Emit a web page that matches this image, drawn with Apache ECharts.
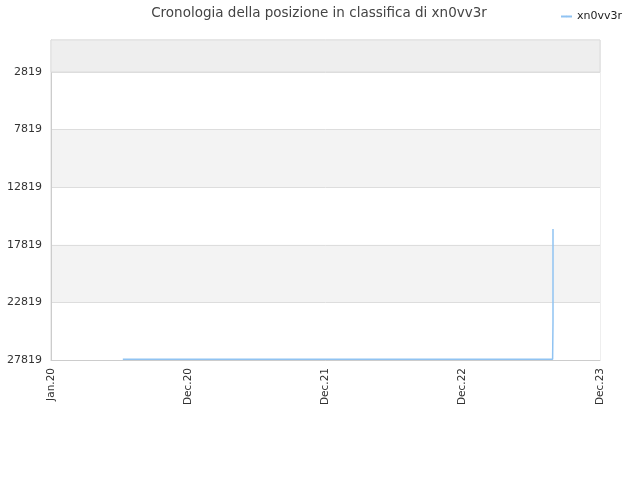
<!DOCTYPE html>
<html>
<head>
<meta charset="utf-8">
<script src="https://cdn.jsdelivr.net/npm/echarts@6/dist/echarts.min.js"></script>
<style>
  html, body { margin: 0; padding: 0; background: #fff; }
  #chart { width: 640px; height: 480px; }
</style>
</head>
<body>
<div id="chart"></div>
<script>
// dati
var seriesName = 'xn0vv3r';
var dates = ['2020-07-10', '2020-12-01', '2021-06-01', '2021-12-01', '2022-06-01', '2022-12-01',
             '2023-06-01', '2023-08-27', '2023-08-28', '2023-08-28', '2023-08-28', '2023-08-28',
             '2023-08-28', '2023-08-28'];
var ranks = [27760, 27760, 27760, 27760, 27760, 27760,
             27760, 27760, 24520, 22700, 21650, 20530, 19660, 16450];
var xTicks = ['2020-01-01', '2020-12-31', '2021-12-31', '2022-12-31', '2023-12-31'];
var yTicks = [2819, 7819, 12819, 17819, 22819, 27819];
var yMin = 41;
var monthNames = ['Jan','Feb','Mar','Apr','May','Jun','Jul','Aug','Sep','Oct','Nov','Dec'];

var chart = echarts.init(document.getElementById('chart'));

function toTime(d) { return new Date(d + 'T00:00:00Z').getTime(); }
var xTickValues = xTicks.map(toTime);
var points = dates.map(function (d, i) { return [toTime(d), ranks[i]]; });

var option = {
  animation: false,
  title: {
    text: 'Cronologia della posizione in classifica di xn0vv3r',
    left: 314,
    textAlign: 'center',
    top: 1,
    textStyle: { fontFamily: 'DejaVu Sans', fontSize: 13.5, fontWeight: 'normal', color: '#444' }
  },
  legend: {
    data: [seriesName],
    right: 13,
    top: 6,
    itemWidth: 11,
    itemHeight: 2,
    itemGap: 5,
    textStyle: { fontFamily: 'DejaVu Sans', fontSize: 11, color: '#222' }
  },
  grid: {
    left: 51,
    right: 40,
    top: 40,
    bottom: 120,
    show: true,
    borderColor: '#dddddd',
    borderWidth: 1,
    containLabel: false
  },
  xAxis: {
    type: 'value',
    min: xTickValues[0],
    max: xTickValues[xTickValues.length - 1],
    axisLine: { lineStyle: { color: '#cccccc' } },
    axisTick: { show: false, customValues: xTickValues },
    splitLine: { show: false },
    axisLabel: {
      customValues: xTickValues,
      rotate: 90,
      margin: 8,
      color: '#333',
      fontFamily: 'DejaVu Sans',
      fontSize: 10.5,
      formatter: function (v) {
        var d = new Date(v);
        return monthNames[d.getUTCMonth()] + '.' + String(d.getUTCFullYear()).slice(2);
      }
    }
  },
  yAxis: {
    type: 'value',
    inverse: true,
    min: yMin,
    max: yTicks[yTicks.length - 1],
    axisLine: { show: true, lineStyle: { color: '#cccccc' } },
    axisTick: { show: false, customValues: yTicks },
    axisLabel: {
      customValues: yTicks,
      color: '#333',
      fontFamily: 'DejaVu Sans',
      fontSize: 11,
      margin: 9,
      formatter: function (v) { return String(v); }
    },
    splitLine: { show: true, lineStyle: { color: '#dddddd' } },
    splitArea: {
      show: true,
      areaStyle: { color: ['#ffffff', '#f3f3f3', '#ffffff', '#f3f3f3', '#ffffff', '#ffffff'] }
    }
  },
  series: [{
    name: seriesName,
    type: 'line',
    data: points,
    showSymbol: false,
    symbol: 'none',
    lineStyle: { color: '#90c3f2', width: 1.5 },
    itemStyle: { color: '#90c3f2' },
    // fascia superiore (sopra il primo tick)
    markArea: {
      silent: true,
      itemStyle: { color: '#eeeeee', borderColor: '#dddddd', borderWidth: 1 },
      data: [[{ yAxis: yMin }, { yAxis: yTicks[0] }]]
    }
  }]
};

chart.setOption(option);
</script>
</body>
</html>
